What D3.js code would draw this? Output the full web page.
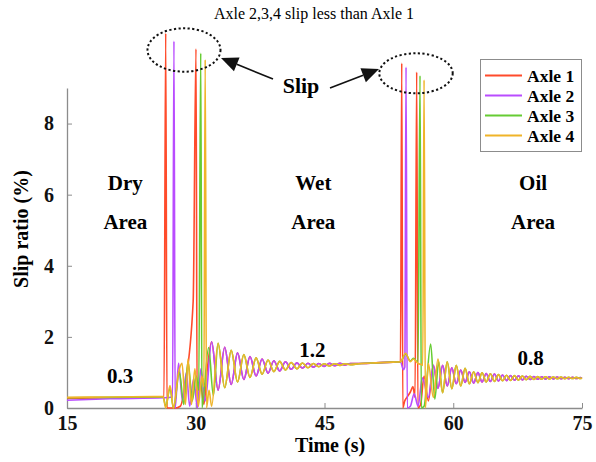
<!DOCTYPE html>
<html>
<head>
<meta charset="utf-8">
<script src="https://cdn.jsdelivr.net/npm/d3@7"></script>
<style>
  html, body { margin: 0; padding: 0; background: #fff; }
  svg text { font-family: "Liberation Serif", "Times New Roman", serif; }
</style>
</head>
<body>
<svg id="chart" width="596" height="462" font-family="Liberation Serif, serif"></svg>
<script>
// ---- data: [time (s), slip ratio (%)] ----
const seriesNames = ["Axle 1", "Axle 2", "Axle 3", "Axle 4"];
const seriesColors = ["#ff4b2b", "#b94cff", "#66cc33", "#f0b429"];
const xTicks = [15, 30, 45, 60, 75];
const yTicks = [0, 2, 4, 6, 8];

// dry area + first slip
const axle1Dry = [[15,0.27],[20,0.29],[26.3,0.31],[26.5,10.54],[26.65,0],[27.6,0],[28.2,0.05],[28.75,0.65],[29.7,3.0],[30.03,10.1],[30.16,0],[30.55,0.7],[30.95,0.1],[31.35,1.1]];
const axle2Dry = [[15,0.22],[20,0.26],[26.3,0.29],[27.3,0.31],[27.46,10.32],[27.6,0],[28.0,1.26],[28.45,0.2],[28.9,1.0],[29.3,0.05],[29.75,0.82],[30.2,0],[30.6,1.1],[31.1,0.2]];
const axle3Dry = [[15,0.29],[20,0.3],[26.2,0.31],[26.5,0.05],[27.0,0.55],[27.4,0],[28.1,1.0],[28.6,0.1],[29.1,1.3],[29.6,0.2],[30.05,0.9],[30.35,0.5],[30.58,9.98],[30.72,0],[31.5,1.7],[32.05,0.35]];
const axle4Dry = [[15,0.3],[20,0.31],[26.2,0.32],[26.5,0],[27.0,0.63],[27.4,0],[28.0,1.0],[28.4,1.26],[28.8,0.1],[29.1,1.38],[29.5,0.1],[29.9,1.1],[30.3,0.05],[30.7,0.9],[30.95,0.6],[31.1,9.8],[31.25,0],[31.55,0.5]];

// wet area swing (axles 1/2 and axles 3/4 in opposite phase)
const wetSwingA = [[31.85,1.86],[32.6,0.5],[33.37,1.71],[34.13,0.66],[34.87,1.55],[35.6,0.8],[36.32,1.45],[37.03,0.9],[37.73,1.38],[38.42,0.98],[39.1,1.33],[39.78,1.04],[40.45,1.3],[41.12,1.09],[41.78,1.27],[42.43,1.12],[43.07,1.26],[43.7,1.15],[44.33,1.25],[44.95,1.17],[45.57,1.255],[46.2,1.19],[46.8,1.255],[47.4,1.21],[48.0,1.25],[49.0,1.25],[51.0,1.27],[53.0,1.29],[53.85,1.3]];
const wetSwingB = [[31.85,0.05],[32.6,1.82],[33.37,0.57],[34.13,1.62],[34.87,0.73],[35.6,1.5],[36.32,0.86],[37.03,1.41],[37.73,0.95],[38.42,1.35],[39.1,1.02],[39.78,1.31],[40.45,1.07],[41.12,1.28],[41.78,1.1],[42.43,1.265],[43.07,1.13],[43.7,1.25],[44.33,1.16],[44.95,1.245],[45.57,1.18],[46.2,1.245],[46.8,1.2],[47.4,1.245],[48.0,1.22],[49.0,1.245],[51.0,1.27],[53.0,1.29],[53.85,1.3]];

// second slip (wet -> oil)
const axle1Oil = [[54.0,9.7],[54.12,0],[54.35,0.2],[54.6,0.3],[55.0,0.45],[55.3,0.6],[55.55,0.3],[55.74,9.45],[55.88,0],[56.2,0.1],[56.6,0.9],[57.1,0.2]];
const axle2Oil = [[54.2,1.08],[54.36,1.15],[54.5,9.59],[54.64,0],[55.0,0.05],[55.45,0.4],[55.9,0.05],[56.4,0.85],[57.1,0.3]];
const axle3Oil = [[54.45,1.52],[55.0,1.32],[55.35,1.4],[55.9,1.28],[56.13,9.35],[56.28,0],[56.6,0.05],[57.37,1.8],[57.85,0.25],[58.3,1.3]];
const axle4Oil = [[54.45,1.54],[55.0,1.3],[55.35,1.38],[55.9,1.25],[56.3,1.22],[56.45,1.2],[56.6,9.23],[56.75,0],[57.1,1.25]];

// oil area swing
const oilSwingA = [[57.68,1.2],[58.22,0.55],[58.76,1.2],[59.3,0.62],[59.83,1.13],[60.35,0.68],[60.87,1.07],[61.38,0.72],[61.88,1.02],[62.38,0.7],[62.87,1.0],[63.36,0.73],[63.84,0.97],[64.32,0.745],[64.8,0.955],[65.27,0.76],[65.74,0.93],[66.21,0.77],[66.67,0.915],[67.13,0.78],[67.59,0.905],[68.05,0.79],[68.5,0.895],[68.95,0.8],[69.4,0.887],[69.85,0.807],[70.3,0.88],[70.75,0.813],[71.2,0.874],[71.65,0.819],[72.1,0.869],[72.55,0.823],[73.0,0.865],[73.45,0.827],[73.9,0.861],[74.35,0.83],[74.8,0.859],[75.0,0.845]];
const oilSwingB = [[57.68,0.3],[58.22,1.38],[58.76,0.43],[59.3,1.3],[59.83,0.54],[60.35,1.2],[60.87,0.62],[61.38,1.12],[61.88,0.68],[62.38,1.02],[62.87,0.715],[63.36,0.99],[63.84,0.73],[64.32,0.965],[64.8,0.75],[65.27,0.94],[65.74,0.765],[66.21,0.92],[66.67,0.775],[67.13,0.91],[67.59,0.785],[68.05,0.9],[68.5,0.795],[68.95,0.89],[69.4,0.803],[69.85,0.883],[70.3,0.81],[70.75,0.877],[71.2,0.816],[71.65,0.871],[72.1,0.821],[72.55,0.867],[73.0,0.825],[73.45,0.863],[73.9,0.829],[74.35,0.86],[74.8,0.831],[75.0,0.845]];

// chain segments: each swing continues after the last point of the previous piece
function chain(...parts) {
  const out = [];
  parts.forEach(p => {
    const last = out.length ? out[out.length - 1][0] : -Infinity;
    p.forEach(d => { if (d[0] > last) out.push(d); });
  });
  return out;
}
const series = [
  chain(axle1Dry, wetSwingA, axle1Oil, oilSwingA),
  chain(axle2Dry, wetSwingA, axle2Oil, oilSwingA),
  chain(axle3Dry, wetSwingB, axle3Oil, oilSwingB),
  chain(axle4Dry, wetSwingB, axle4Oil, oilSwingB)
];

// ---- layout ----
const svg = d3.select("#chart");
const plotLeft = 67, plotRight = 582, plotTop = 88, plotBottom = 408;
const x = d3.scaleLinear().domain([15, 75]).range([plotLeft, plotRight]);
const y = d3.scaleLinear().domain([0, 9]).range([plotBottom, plotTop]);
const serif = "Liberation Serif, Times New Roman, serif";

// axes
const xAxis = d3.axisBottom(x).tickValues(xTicks).tickSizeInner(-5).tickSizeOuter(0).tickPadding(8);
const yAxis = d3.axisLeft(y).tickValues(yTicks).tickSizeInner(-5).tickSizeOuter(0).tickPadding(13);

const gx = svg.append("g").attr("transform", `translate(0,${plotBottom})`).call(xAxis);
const gy = svg.append("g").attr("transform", `translate(${plotLeft},0)`).call(yAxis);
[gx, gy].forEach(g => {
  g.attr("font-family", serif);
  g.select(".domain").attr("stroke", "#8c8c8c").attr("stroke-width", 1.3);
  g.selectAll(".tick line").attr("stroke", "#8c8c8c");
  g.selectAll(".tick text")
    .attr("font-family", serif)
    .attr("font-weight", "bold").attr("font-size", 20).attr("fill", "#111");
});

// lines
const line = d3.line().x(d => x(d[0])).y(d => y(d[1])).curve(d3.curveMonotoneX);
svg.append("g").selectAll("path").data(series).join("path")
  .attr("d", line)
  .attr("fill", "none")
  .attr("stroke", (d, i) => seriesColors[i])
  .attr("stroke-width", 1.6)
  .attr("stroke-linejoin", "round");

// axis titles
svg.append("text").attr("x", 330).attr("y", 452).attr("text-anchor", "middle")
  .attr("font-family", serif).attr("font-weight", "bold").attr("font-size", 20).text("Time (s)");
svg.append("text").attr("transform", "translate(28,229) rotate(-90)").attr("text-anchor", "middle")
  .attr("font-family", serif).attr("font-weight", "bold").attr("font-size", 20).text("Slip ratio (%)");

// title
svg.append("text").attr("x", 314).attr("y", 19).attr("text-anchor", "middle")
  .attr("font-family", serif).attr("font-size", 16).text("Axle 2,3,4 slip less than Axle 1");

// area labels
const areaLabels = [
  { t: 21.8, lines: ["Dry", "Area"] },
  { t: 43.7, lines: ["Wet", "Area"] },
  { t: 69.3, lines: ["Oil", "Area"] }
];
areaLabels.forEach(a => {
  a.lines.forEach((s, k) => {
    svg.append("text").attr("x", x(a.t)).attr("y", 190 + k * 39).attr("text-anchor", "middle")
      .attr("font-family", serif).attr("font-weight", "bold").attr("font-size", 21).text(s);
  });
});

// mean values
const meanLabels = [
  { t: 21.2, v: 0.3, yy: 383 },
  { t: 43.6, v: 1.2, yy: 357 },
  { t: 69.0, v: 0.8, yy: 365 }
];
meanLabels.forEach(m => {
  svg.append("text").attr("x", x(m.t)).attr("y", m.yy).attr("text-anchor", "middle")
    .attr("font-family", serif).attr("font-weight", "bold").attr("font-size", 21).text(d3.format(".1f")(m.v));
});

// slip callouts: dotted ellipses and arrows
const ann = svg.append("g");
[[184, 50, 36.5, 21.7], [416, 73.3, 36.7, 20]].forEach(e => {
  ann.append("ellipse").attr("cx", e[0]).attr("cy", e[1]).attr("rx", e[2]).attr("ry", e[3])
    .attr("fill", "none").attr("stroke", "#111").attr("stroke-width", 2).attr("stroke-dasharray", "2.2,2.4");
});
function arrow(x1, y1, x2, y2) {
  const ang = Math.atan2(y2 - y1, x2 - x1), L = 17, W = 7.5;
  const bx = x2 - L * Math.cos(ang), by = y2 - L * Math.sin(ang);
  ann.append("line").attr("x1", x1).attr("y1", y1).attr("x2", bx).attr("y2", by)
    .attr("stroke", "#111").attr("stroke-width", 1.6);
  const px = -Math.sin(ang) * W, py = Math.cos(ang) * W;
  ann.append("path").attr("d", `M${x2},${y2}L${bx + px},${by + py}L${bx - px},${by - py}Z`).attr("fill", "#111");
}
arrow(273, 79, 221, 58);
arrow(330, 88, 379, 69);
ann.append("text").attr("x", 301).attr("y", 93).attr("text-anchor", "middle")
  .attr("font-family", serif).attr("font-weight", "bold").attr("font-size", 22).text("Slip");

// legend
const lg = svg.append("g");
lg.append("rect").attr("x", 480.5).attr("y", 59.5).attr("width", 101).attr("height", 92)
  .attr("fill", "#fff").attr("stroke", "#8c8c8c").attr("stroke-width", 1);
seriesNames.forEach((n, i) => {
  const yy = 75.5 + i * 20;
  lg.append("line").attr("x1", 485).attr("x2", 522).attr("y1", yy).attr("y2", yy)
    .attr("stroke", seriesColors[i]).attr("stroke-width", 1.8);
  lg.append("text").attr("x", 527).attr("y", yy + 6).attr("font-family", serif).attr("font-weight", "bold")
    .attr("font-size", 17.5).text(n);
});
</script>
</body>
</html>
